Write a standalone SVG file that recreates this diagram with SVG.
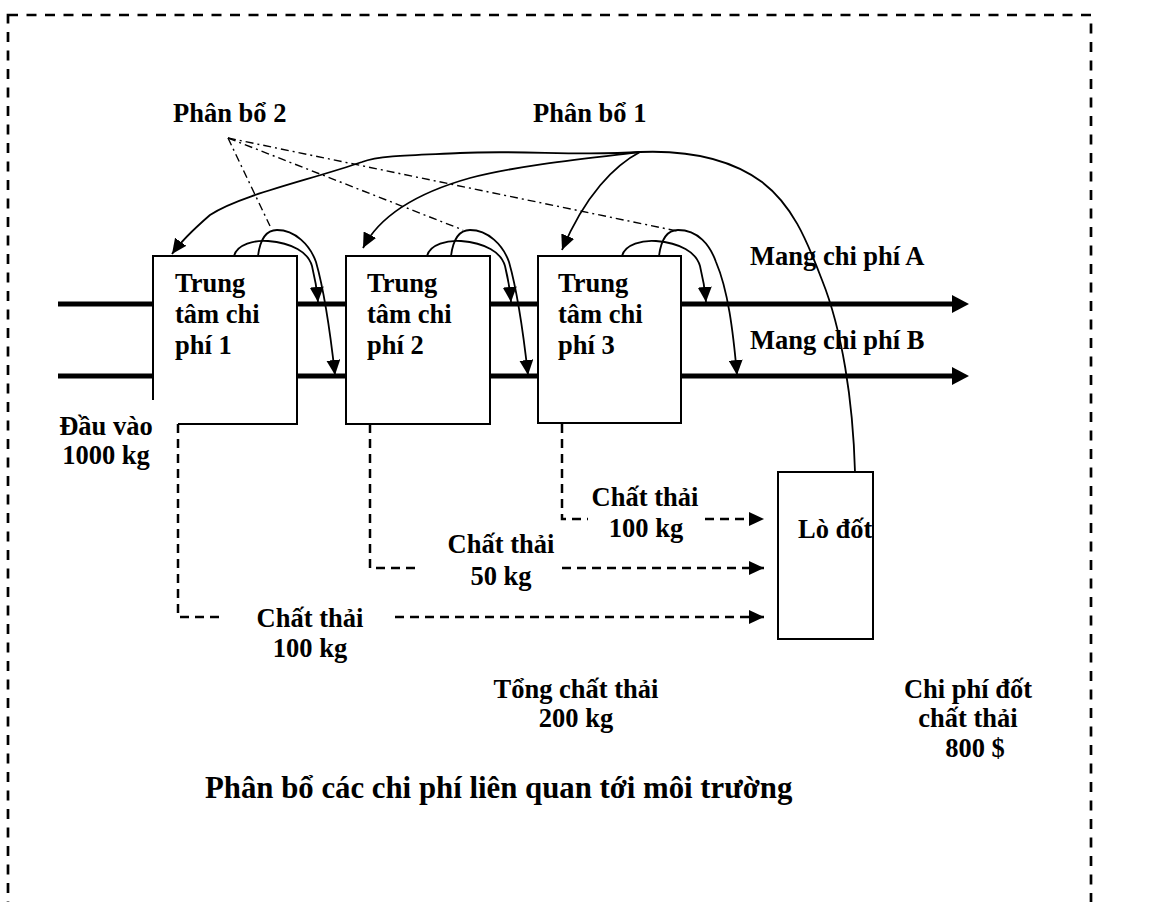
<svg xmlns="http://www.w3.org/2000/svg" width="1160" height="902" viewBox="0 0 1160 902">
<style>
text{font-family:"Liberation Serif","Times New Roman",serif;font-weight:bold;font-size:26.5px;fill:#000}
.mid{text-anchor:middle}
.title{font-size:30.8px}
.box{fill:#fff;stroke:#000;stroke-width:2}
.thick{stroke:#000;stroke-width:5;fill:none}
.curve{stroke:#000;stroke-width:1.8;fill:none}
.waste{stroke:#000;stroke-width:2.5;fill:none;stroke-dasharray:9 6}
.dd{stroke:#000;stroke-width:1.4;fill:none;stroke-dasharray:8 4 2 4}
</style>
<defs>
<marker id="ah" markerUnits="userSpaceOnUse" markerWidth="16" markerHeight="14" refX="15" refY="7" orient="auto">
<path d="M0,0 L15,7 L0,14 Z" fill="#000"/>
</marker>
<marker id="ahd" markerUnits="userSpaceOnUse" markerWidth="16" markerHeight="14" refX="15" refY="7" orient="auto">
<path d="M0,0 L15,7 L0,14 Z" fill="#000"/>
</marker>
</defs>
<rect x="8" y="15" width="1083" height="910" fill="none" stroke="#000" stroke-width="2.7" stroke-dasharray="10 8.5"/>

<g id="connectors">
<g id="flows">
<path class="thick" d="M58,304 H955"/>
<polygon points="952,295 969,304 952,313" fill="#000"/>
<path class="thick" d="M58,376 H955"/>
<polygon points="952,367 969,376 952,385" fill="#000"/>
</g>
<g id="waste-lines">
<path class="waste" d="M178,424 V617 H222"/>
<path class="waste" d="M395,617 H764" marker-end="url(#ahd)"/>
<path class="waste" d="M370,424 V568 H418"/>
<path class="waste" d="M562,568 H764" marker-end="url(#ahd)"/>
<path class="waste" d="M562,424 V519 H588"/>
<path class="waste" d="M705,519 H764" marker-end="url(#ahd)"/>
</g>
<g id="allocation1">
<path class="curve" d="M855,472 C853,400 842,330 822,280 C806,238 792,205 762,182 C732,160 690,150 640,152"/>
<path class="curve" d="M640,152 C615,165 585,195 562,250" marker-end="url(#ah)"/>
<path class="curve" d="M640,152 C590,158 520,165 470,178 C420,192 380,215 363,248" marker-end="url(#ah)"/>
<path class="curve" d="M640,152 C580,156 520,150 460,153 C420,155 380,155 362,162 C310,180 240,195 210,215 C195,228 182,240 172,254" marker-end="url(#ah)"/>
</g>
<g id="allocation2">
<path class="dd" d="M228,138 L270,226"/>
<path class="dd" d="M228,138 L463,230"/>
<path class="dd" d="M228,138 L677,231"/>
</g>
</g>

<g id="center1">
<rect x="153" y="256" width="144" height="168" fill="#fff"/>
<path d="M178,424 H297 V256 H153 V400" fill="none" stroke="#000" stroke-width="2"/>
<text x="175" y="292">Trung</text>
<text x="175" y="323">tâm chi</text>
<text x="175" y="354">phí 1</text>
</g>
<g id="center2">
<rect class="box" x="346" y="256" width="144" height="168"/>
<text x="367" y="292">Trung</text>
<text x="367" y="323">tâm chi</text>
<text x="367" y="354">phí 2</text>
</g>
<g id="center3">
<rect class="box" x="538" y="256" width="143" height="167"/>
<text x="558" y="292">Trung</text>
<text x="558" y="323">tâm chi</text>
<text x="558" y="354">phí 3</text>
</g>
<g id="incinerator">
<rect class="box" x="778" y="472" width="95" height="167"/>
<text x="798" y="538">Lò đốt</text>
</g>

<g id="loops">
<g id="loop1">
<path class="curve" d="M234,256 C237,244 255,240 268,241 C292,243 308,252 312,266 C315,278 317,290 318,302" marker-end="url(#ah)"/>
<path class="curve" d="M258,256 C260,240 266,230 277,230 C295,230 310,245 316,262 C324,290 330,330 335,375" marker-end="url(#ah)"/>
</g>
<g id="loop2" transform="translate(193,0)">
<path class="curve" d="M234,256 C237,244 255,240 268,241 C292,243 308,252 312,266 C315,278 317,290 318,302" marker-end="url(#ah)"/>
<path class="curve" d="M258,256 C260,240 266,230 277,230 C295,230 310,245 316,262 C324,290 330,330 335,375" marker-end="url(#ah)"/>
</g>
<g id="loop3">
<path class="curve" d="M622,256 C625,244 643,240 656,241 C680,243 696,252 700,266 C703,278 705,290 706,302" marker-end="url(#ah)"/>
<path class="curve" d="M659,256 C661,240 667,230 678,230 C698,230 710,245 716,262 C728,290 733,330 737,375" marker-end="url(#ah)"/>
</g>
</g>

<g id="labels">
<text x="173" y="122">Phân bổ 2</text>
<text x="533" y="122">Phân bổ 1</text>
<text x="750" y="265">Mang chi phí A</text>
<text x="750" y="349">Mang chi phí B</text>
<text class="mid" x="106" y="435">Đầu vào</text>
<text class="mid" x="106" y="464">1000 kg</text>
<text class="mid" x="645" y="506">Chất thải</text>
<text class="mid" x="646" y="537">100 kg</text>
<text class="mid" x="501" y="553">Chất thải</text>
<text class="mid" x="501" y="585">50 kg</text>
<text class="mid" x="310" y="627">Chất thải</text>
<text class="mid" x="310" y="657">100 kg</text>
<text class="mid" x="576" y="698">Tổng chất thải</text>
<text class="mid" x="576" y="727">200 kg</text>
<text class="mid" x="968" y="698">Chi phí đốt</text>
<text class="mid" x="968" y="727">chất thải</text>
<text class="mid" x="975" y="757">800 $</text>
<text class="title" x="205" y="798">Phân bổ các chi phí liên quan tới môi trường</text>
</g>
</svg>
